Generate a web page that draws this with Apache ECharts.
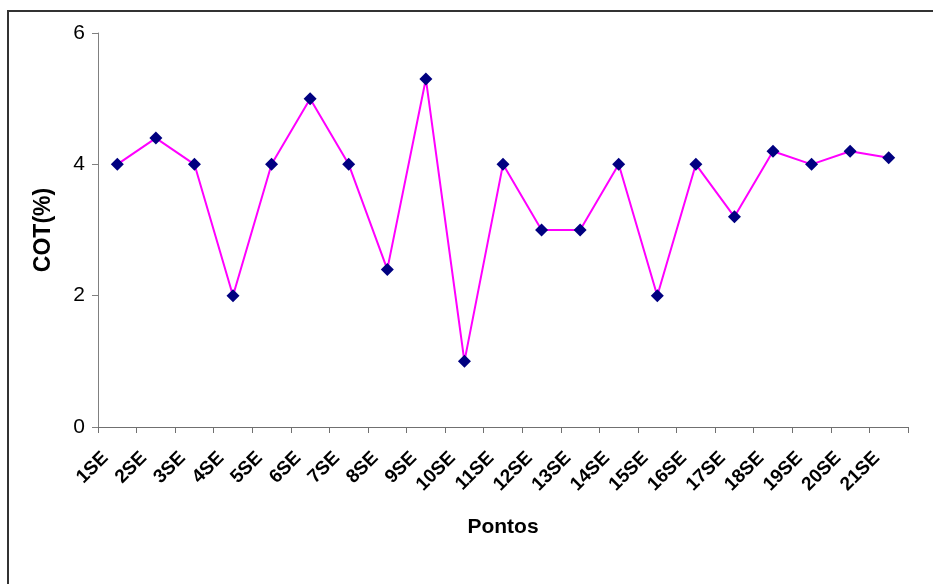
<!DOCTYPE html>
<html>
<head>
<meta charset="utf-8">
<script src="https://cdn.jsdelivr.net/npm/echarts@6/dist/echarts.min.js"></script>
<style>
  html, body { margin: 0; padding: 0; background: #fff; }
  #chart { width: 933px; height: 584px; }
</style>
</head>
<body>
<div id="chart"></div>
<script>
// Sampling points along the section
const pontos = ['1SE','2SE','3SE','4SE','5SE','6SE','7SE','8SE','9SE','10SE','11SE',
                '12SE','13SE','14SE','15SE','16SE','17SE','18SE','19SE','20SE','21SE'];
// Total organic carbon (%) at each point
const cot = [4, 4.4, 4, 2, 4, 5, 4, 2.4, 5.3, 1, 4, 3, 3, 4, 2, 4, 3.2, 4.2, 4, 4.2, 4.1];
// Y axis ticks
const yMin = 0, yMax = 6, yStep = 2;

const font = 'Liberation Sans, Arial, sans-serif';
const chart = echarts.init(document.getElementById('chart'), null, { renderer: 'canvas' });

chart.setOption({
  animation: false,
  backgroundColor: '#ffffff',
  graphic: [{
    type: 'rect',
    shape: { x: 8, y: 11, width: 960, height: 620 },
    style: { fill: 'none', stroke: '#333333', lineWidth: 2 },
    silent: true
  }],
  grid: { left: 98, top: 33, right: 25, bottom: 157, containLabel: false },
  xAxis: {
    type: 'category',
    data: pontos,
    boundaryGap: true,
    name: 'Pontos',
    nameLocation: 'middle',
    nameGap: 90,
    nameTextStyle: { fontFamily: font, fontSize: 21, fontWeight: 'bold', color: '#000' },
    axisLine: { lineStyle: { color: '#707070', width: 1 } },
    axisTick: { show: true, alignWithLabel: false, length: 6, lineStyle: { color: '#707070' } },
    axisLabel: {
      rotate: 45, interval: 0, margin: 16,
      padding: [0, 17, 0, 0],
      fontFamily: font, fontSize: 19, fontWeight: 'bold', color: '#000'
    },
    splitLine: { show: false }
  },
  yAxis: {
    type: 'value',
    min: yMin, max: yMax, interval: yStep,
    name: 'COT(%)',
    nameLocation: 'middle',
    nameGap: 43,
    nameRotate: 90,
    nameTextStyle: { fontFamily: font, fontSize: 23, fontWeight: 'bold', color: '#000' },
    axisLine: { show: true, lineStyle: { color: '#808080', width: 1 } },
    axisTick: { show: true, length: 6, lineStyle: { color: '#808080' } },
    axisLabel: { margin: 13, fontFamily: font, fontSize: 21, color: '#000' },
    splitLine: { show: false }
  },
  series: [{
    type: 'line',
    data: cot,
    symbol: 'diamond',
    symbolSize: 13,
    itemStyle: { color: '#000080' },
    lineStyle: { color: '#FF00FF', width: 2 },
    z: 3
  }]
});
</script>
</body>
</html>
